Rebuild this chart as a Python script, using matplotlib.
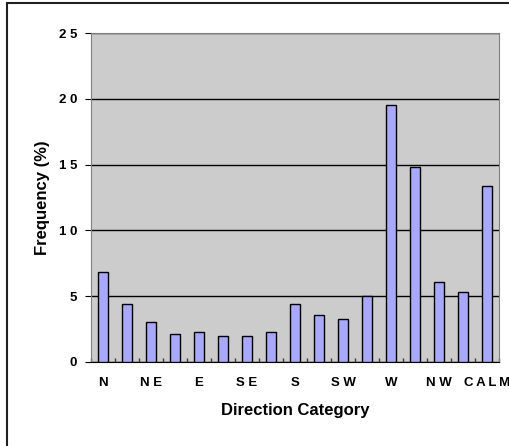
import matplotlib
matplotlib.use("Agg")
import matplotlib.pyplot as plt
from matplotlib.patches import Rectangle
import numpy as np

directions = ["N", "NNE", "NE", "ENE", "E", "ESE", "SE", "SSE", "S",
              "SSW", "SW", "WSW", "W", "WNW", "NW", "NNW", "CALM"]
frequency = [6.85, 4.4, 3.05, 2.15, 2.25, 2.0, 2.0, 2.25, 4.4,
             3.55, 3.3, 5.05, 19.5, 14.8, 6.1, 5.3, 13.35]
shown_labels = ["N", "N E", "E", "S E", "S", "S W", "W", "N W", "C\u2009A\u2009L\u2009M"]
y_labels = ["0", "5", "1 0", "1 5", "2 0", "2 5"]

plt.rcParams['font.family'] = ['Liberation Sans', 'DejaVu Sans']

fig = plt.figure(figsize=(5.09, 4.46), dpi=100)
ax = fig.add_axes([91 / 509, 1 - 362 / 446, 408 / 509, 329 / 446])

x = np.arange(len(directions))
ax.bar(x, frequency, width=0.4, color="#A8A8FF", edgecolor="black", linewidth=1, zorder=3)

ax.set_facecolor("#CCCCCC")
ax.set_xlim(-0.5, len(directions) - 0.5)
ax.set_ylim(0, 25)
ax.set_yticks(np.arange(0, 26, 5))
ax.set_yticklabels(y_labels, fontsize=9.5, fontweight="bold")
ax.yaxis.grid(True, color="black", linewidth=1)
ax.set_axisbelow(True)

ax.set_xticks(x[::2])
ax.set_xticklabels(shown_labels, fontsize=9.5, fontweight="bold")
ax.set_xticks(np.arange(-0.5, len(directions), 0.5), minor=True)
ax.tick_params(axis="x", which="both", direction="in", length=3, width=1, pad=11, color="#404040")
ax.tick_params(axis="y", direction="out", length=4, pad=6)

for side in ["top", "right", "left"]:
    ax.spines[side].set_color("#808080")
ax.spines["bottom"].set_color("black")

ax.set_xlabel("Direction Category", fontsize=12, fontweight="bold", labelpad=10)
ax.set_ylabel("Frequency (%)", fontsize=12, fontweight="bold", labelpad=6)

fig.patches.append(Rectangle((7 / 509, -0.1), 1.2, 1 - 3 / 446 + 0.1,
                             transform=fig.transFigure, fill=False,
                             edgecolor="#202020", linewidth=1.5))

fig.savefig("out.png", dpi=100)
